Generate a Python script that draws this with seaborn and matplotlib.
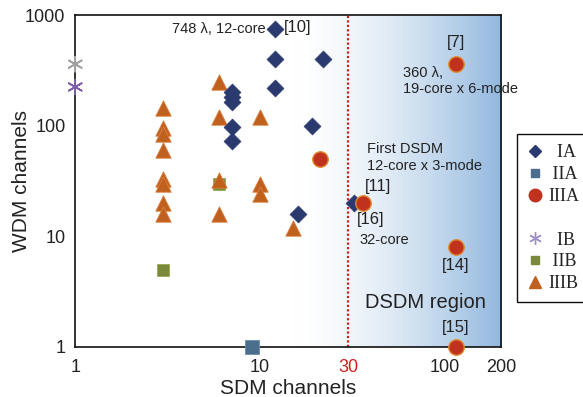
import numpy as np
import pandas as pd
import matplotlib
matplotlib.use("Agg")
import matplotlib.pyplot as plt
import seaborn as sns
from matplotlib.lines import Line2D
from matplotlib.ticker import FixedLocator, NullFormatter, LogLocator

sns.set_theme(style="white")
plt.rcParams['font.family'] = ['Liberation Sans', 'DejaVu Sans']

# ---- data ----
ia_x = [12, 12, 12, 7, 7, 7, 7, 7, 22, 19, 16, 32]
ia_y = [748, 400, 220, 200, 181, 163, 97, 73, 400, 100, 16, 20]

iia_x = [9]
iia_y = [1]

iiia_x = [114, 21, 36, 114, 114]
iiia_y = [360, 50, 20, 8, 1]

ib_x = [1, 1]
ib_y = [360, 224]

iib_x = [3, 6]
iib_y = [5, 30]

iiib_x = [3, 3, 3, 3, 3, 3, 3, 3, 6, 6, 6, 6, 10, 10, 10, 15]
iiib_y = [145, 95, 85, 60, 33, 30, 20, 16, 250, 120, 32, 16, 120, 30, 24, 12]

x_ticks = [1, 10, 30, 100, 200]
x_ticklabels = ["1", "10", "30", "100", "200"]
y_ticks = [1, 10, 100, 1000]
y_ticklabels = ["1", "10", "100", "1000"]

# ---- figure ----
fig = plt.figure(figsize=(5.83, 3.97), dpi=100)
ax = fig.add_axes([0.129, 0.126, 0.73, 0.836])
ax.set_xscale('log')
ax.set_yscale('log')

# gradient background (DSDM region)
x0f = np.log10(15) / np.log10(200)
t = np.linspace(0, 1, 400)
f = np.clip(t, 0, 1) ** 1.6
blue = np.array([0.57, 0.72, 0.87])
white = np.array([1.0, 1.0, 1.0])
row = white[None, :] * (1 - f[:, None]) + blue[None, :] * f[:, None]
img = np.tile(row[None, :, :], (2, 1, 1))
ax.imshow(img, extent=[x0f, 1, 0, 1], transform=ax.transAxes, aspect='auto',
          interpolation='bilinear', zorder=0)

ax.axvline(30, color='#cc2222', linestyle=(0, (1, 1)), linewidth=1.6, zorder=1)

ms = 95
sns.scatterplot(x=iiib_x, y=iiib_y, marker='^', color='#c0601e', edgecolor='#d98040',
                linewidth=0.6, s=ms * 1.3, ax=ax, zorder=3, legend=False)
sns.scatterplot(x=iib_x, y=iib_y, marker='s', color='#7a8a3a', edgecolor='#9aa85a',
                linewidth=0.6, s=ms * 0.85, ax=ax, zorder=2.5, legend=False)
sns.scatterplot(x=ia_x, y=ia_y, marker='D', color='#2b3a6e', edgecolor='#2b3a6e',
                linewidth=0.5, s=ms * 0.78, ax=ax, zorder=4, legend=False)
sns.scatterplot(x=iia_x, y=iia_y, marker='s', color='#4a6e8c', edgecolor='#6a8eaa',
                linewidth=0.6, s=ms * 0.95, ax=ax, zorder=4, legend=False, clip_on=False)
sns.scatterplot(x=iiia_x, y=iiia_y, marker='o', color='#c0321e', edgecolor='#e08a30',
                linewidth=1.0, s=ms * 1.3, ax=ax, zorder=5, legend=False, clip_on=False)
sns.scatterplot(x=ib_x, y=ib_y, hue=[0, 1], palette=['#a0a0a0', '#7b5ea7'],
                marker=(6, 2, 0), linewidth=1.2, s=ms * 1.2, ax=ax, zorder=5,
                legend=False, clip_on=False)

ax.set_xlim(1, 200)
ax.set_ylim(1, 1000)

ax.xaxis.set_major_locator(FixedLocator(x_ticks))
ax.set_xticklabels(x_ticklabels)
ax.xaxis.set_minor_locator(LogLocator(base=10, subs=np.arange(2, 10)))
ax.xaxis.set_minor_formatter(NullFormatter())
ax.yaxis.set_major_locator(FixedLocator(y_ticks))
ax.set_yticklabels(y_ticklabels)
ax.yaxis.set_minor_locator(LogLocator(base=10, subs=np.arange(2, 10)))
ax.yaxis.set_minor_formatter(NullFormatter())
ax.tick_params(axis='both', which='major', direction='in', length=7, width=1,
               labelsize=13, colors='#222222')
ax.tick_params(axis='x', which='major', pad=9)
ax.tick_params(axis='y', which='major', pad=7)
ax.tick_params(axis='both', which='minor', direction='in', length=4, width=0.8,
               color='#444444')
for lab in ax.get_xticklabels():
    if lab.get_text() == "30":
        lab.set_color('#cc2222')
for sp in ax.spines.values():
    sp.set_color('#111111')
    sp.set_linewidth(1.2)

ax.set_xlabel("SDM channels", fontsize=15, color='#222222', labelpad=2)
ax.set_ylabel("WDM channels", fontsize=15, color='#222222', labelpad=-4)

tc = '#222222'
ax.text(10.7, 748, "748 λ, 12-core", ha='right', va='center', fontsize=10.5, color=tc)
ax.text(13.4, 770, "[10]", ha='left', va='center', fontsize=12, color=tc)
ax.text(114, 560, "[7]", ha='center', va='center', fontsize=12, color=tc)
ax.text(59, 345, "360 λ,\n19-core x 6-mode", ha='left', va='top', fontsize=10.5,
        color=tc, linespacing=1.2)
ax.text(38, 52, "First DSDM\n12-core x 3-mode", ha='left', va='center', fontsize=10.5,
        color=tc, linespacing=1.25)
ax.text(37, 28.5, "[11]", ha='left', va='center', fontsize=12, color=tc)
ax.text(33.5, 14.3, "[16]", ha='left', va='center', fontsize=12, color=tc)
ax.text(34.5, 9.2, "32-core", ha='left', va='center', fontsize=10.5, color=tc)
ax.text(114, 5.5, "[14]", ha='center', va='center', fontsize=12, color=tc)
ax.text(78, 2.55, "DSDM region", ha='center', va='center', fontsize=14.5, color=tc)
ax.text(114, 1.5, "[15]", ha='center', va='center', fontsize=12, color=tc)

# legend
handles = [
    Line2D([], [], marker='D', color='#2b3a6e', linestyle='none', markersize=6),
    Line2D([], [], marker='s', color='#4a6e8c', linestyle='none', markersize=6),
    Line2D([], [], marker='o', color='#c0321e', linestyle='none', markersize=9),
    Line2D([], [], linestyle='none'),
    Line2D([], [], marker=(6, 2, 0), color='#a090c8', linestyle='none', markersize=9,
           markeredgewidth=1.0),
    Line2D([], [], marker='s', color='#7a8a3a', linestyle='none', markersize=6),
    Line2D([], [], marker='^', color='#c0601e', linestyle='none', markersize=9),
]
labels = ["  IA", " IIA", "IIIA", "", "  IB", " IIB", "IIIB"]
leg = fig.legend(handles, labels, loc='upper left', bbox_to_anchor=(0.886, 0.662),
                 frameon=True, fancybox=False, edgecolor='#111111', framealpha=1,
                 prop={'family': 'Liberation Serif', 'size': 13},
                 handlelength=0.9, handletextpad=0.3, labelspacing=0.27,
                 borderpad=0.55, borderaxespad=0)
leg.get_frame().set_linewidth(1.0)

fig.savefig("out.png", dpi=100)
